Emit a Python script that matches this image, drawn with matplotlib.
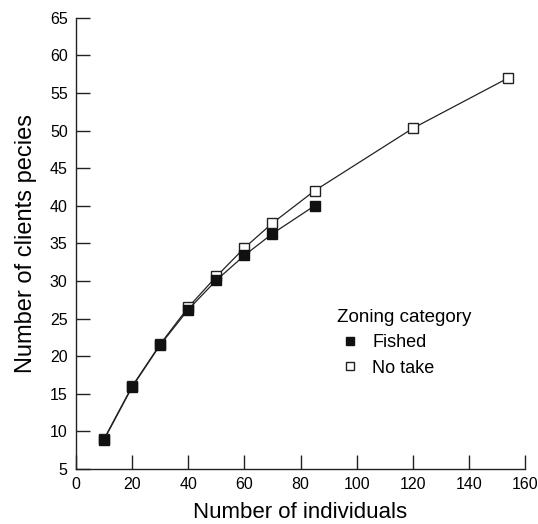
import matplotlib
matplotlib.use("Agg")
import matplotlib.pyplot as plt
from matplotlib.lines import Line2D

plt.rcParams['font.family'] = ['Liberation Sans', 'DejaVu Sans']

# rarefaction data
fished_x = [10, 20, 30, 40, 50, 60, 70, 85]
fished_y = [8.9, 15.9, 21.5, 26.2, 30.1, 33.4, 36.3, 40.0]
notake_x = [10, 20, 30, 40, 50, 60, 70, 85, 120, 154]
notake_y = [9.0, 16.0, 21.6, 26.5, 30.6, 34.4, 37.7, 42.0, 50.3, 57.0]

xticks = list(range(0, 161, 20))
yticks = list(range(5, 66, 5))

fig = plt.figure(figsize=(5.38, 5.24), dpi=100)
ax = fig.add_axes([0.1413, 0.105, 0.8346, 0.861])

# no take first so the filled squares sit on top where they overlap
ax.plot(notake_x, notake_y, color='#222222', lw=0.9, marker='s', ms=7.5,
        mfc='white', mec='#222222', mew=1.0)
ax.plot(fished_x, fished_y, color='#222222', lw=0.9, marker='s', ms=7.5,
        mfc='#111111', mec='#111111')

ax.set_xlim(0, 160)
ax.set_ylim(5, 65)
ax.set_xticks(xticks)
ax.set_yticks(yticks)

for s in ['top', 'right']:
    ax.spines[s].set_visible(False)
for s in ['left', 'bottom']:
    ax.spines[s].set_linewidth(1.0)
    ax.spines[s].set_color('#222222')
ax.tick_params(direction='in', length=10, width=1.0, color='#222222',
               labelsize=11.5, pad=6)

ax.set_xlabel('Number of individuals', fontsize=16, labelpad=7)
ax.set_ylabel('Number of clients pecies', fontsize=17, labelpad=9)

handles = [
    Line2D([], [], ls='none', marker='s', ms=6, mfc='#111111', mec='#111111'),
    Line2D([], [], ls='none', marker='s', ms=6, mfc='white', mec='#222222'),
]
leg = ax.legend(handles, ['Fished', 'No take'], title='Zoning category',
                loc='upper left', bbox_to_anchor=(0.545, 0.39), frameon=False,
                fontsize=13, title_fontsize=13.5, handlelength=1.4,
                handletextpad=0.55, labelspacing=0.45, alignment='left')

fig.savefig('out.png', dpi=100)
